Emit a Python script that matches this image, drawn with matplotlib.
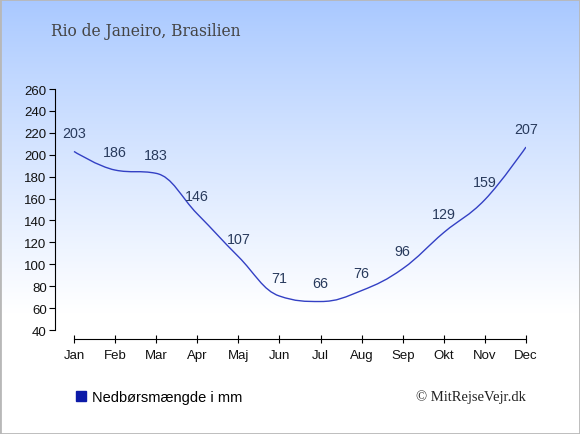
import matplotlib
matplotlib.use('Agg')
from matplotlib import pyplot as plt
from matplotlib.path import Path
from matplotlib.patches import PathPatch, Rectangle
from matplotlib.lines import Line2D
import numpy as np

months = ['Jan', 'Feb', 'Mar', 'Apr', 'Maj', 'Jun', 'Jul', 'Aug', 'Sep', 'Okt', 'Nov', 'Dec']
rain = [203, 186, 183, 146, 107, 71, 66, 76, 96, 129, 159, 207]
title = 'Rio de Janeiro, Brasilien'
series_name = 'Nedbørsmængde i mm'
credit = '© MitRejseVejr.dk'


def spline_path(xs, ys, smoothing=1.5):
    # highcharts-like spline control points
    n = len(xs)
    left = [(xs[i], ys[i]) for i in range(n)]
    right = [(xs[i], ys[i]) for i in range(n)]
    denom = smoothing + 1
    for i in range(1, n - 1):
        px, py = xs[i], ys[i]
        lx, ly = xs[i - 1], ys[i - 1]
        nx, ny = xs[i + 1], ys[i + 1]
        lcx = (smoothing * px + lx) / denom
        lcy = (smoothing * py + ly) / denom
        rcx = (smoothing * px + nx) / denom
        rcy = (smoothing * py + ny) / denom
        if rcx != lcx:
            corr = (rcy - lcy) * (rcx - px) / (rcx - lcx) + py - rcy
            lcy += corr
            rcy += corr
        if lcy > ly and lcy > py:
            lcy = max(ly, py)
            rcy = 2 * py - lcy
        elif lcy < ly and lcy < py:
            lcy = min(ly, py)
            rcy = 2 * py - lcy
        if rcy > ny and rcy > py:
            rcy = max(ny, py)
            lcy = 2 * py - rcy
        elif rcy < ny and rcy < py:
            rcy = min(ny, py)
            lcy = 2 * py - rcy
        left[i] = (lcx, lcy)
        right[i] = (rcx, rcy)
    verts = [(xs[0], ys[0])]
    codes = [Path.MOVETO]
    for i in range(1, n):
        verts += [right[i - 1], left[i], (xs[i], ys[i])]
        codes += [Path.CURVE4] * 3
    return Path(verts, codes)


W, H = 580, 435
fig = plt.figure(figsize=(W / 100, H / 100), dpi=100)

# background gradient
bg = fig.add_axes([0, 0, 1, 1], zorder=-10)
grad = np.linspace(0, 1, 256)
top = np.array([168, 200, 255]) / 255.0
img = np.ones((256, 1, 3))
t = np.clip(grad / 0.72, 0, 1) ** 0.9
for k in range(3):
    img[:, 0, k] = top[k] + (1 - top[k]) * t
bg.imshow(img, aspect='auto', extent=[0, 1, 0, 1], origin='upper')
bg.set_axis_off()

# plot area: left spine at 55px, Jan at 74px, Dec at 526px
ax = fig.add_axes([55 / W, 1 - 340 / H, (526 - 55) / W, (340 - 90) / H])
ax.patch.set_alpha(0)
x = np.arange(len(months))
ax.set_xlim(-19 / 41.09, 11)
ax.set_ylim(40 - 9 / 1.0955, 260)

path = spline_path(list(x), rain)
ax.add_patch(PathPatch(path, facecolor='none', edgecolor='#3340c4', lw=1.0))

for xi, v in zip(x, rain):
    ax.annotate(str(v), (xi, v), xytext=(0, 13), textcoords='offset points',
                ha='center', va='center', fontsize=10.3, color='#283a5c',
                family='Liberation Sans')

ax.spines['top'].set_visible(False)
ax.spines['right'].set_visible(False)
ax.spines['left'].set_bounds(40, 260)
ax.spines['bottom'].set_bounds(0, 11)
ax.set_yticks(np.arange(40, 261, 20))
ax.set_xticks(x)
ax.set_xticklabels(months)
ax.tick_params(axis='y', direction='out', length=4, labelsize=9.5, pad=2)
ax.tick_params(axis='x', direction='inout', length=6, labelsize=9.5, pad=4)
for lab in ax.get_xticklabels() + ax.get_yticklabels():
    lab.set_family('Liberation Sans')
    lab.set_color('#111111')

fig.text(51 / W, 1 - 32 / H, title, family='DejaVu Serif', fontsize=11.2,
         color='#444444', va='center', ha='left')

handle = Line2D([], [], marker='s', ls='none', color='#0c1aa8', markersize=7.5)
fig.legend([handle], [series_name], loc='center left',
           bbox_to_anchor=(74 / W, 1 - 398 / H), frameon=False,
           borderpad=0, borderaxespad=0, handlelength=0.9, handletextpad=0.35,
           prop={'family': 'Liberation Sans', 'size': 10.5})

fig.text(526 / W, 1 - 397 / H, credit, family='Liberation Serif', fontsize=10.5,
         color='#222222', va='center', ha='right')

fig.add_artist(Rectangle((0, 0), 1, 1, transform=fig.transFigure, fill=False,
                         edgecolor='#b8b8b8', lw=2))

fig.savefig('out.png', dpi=100)
